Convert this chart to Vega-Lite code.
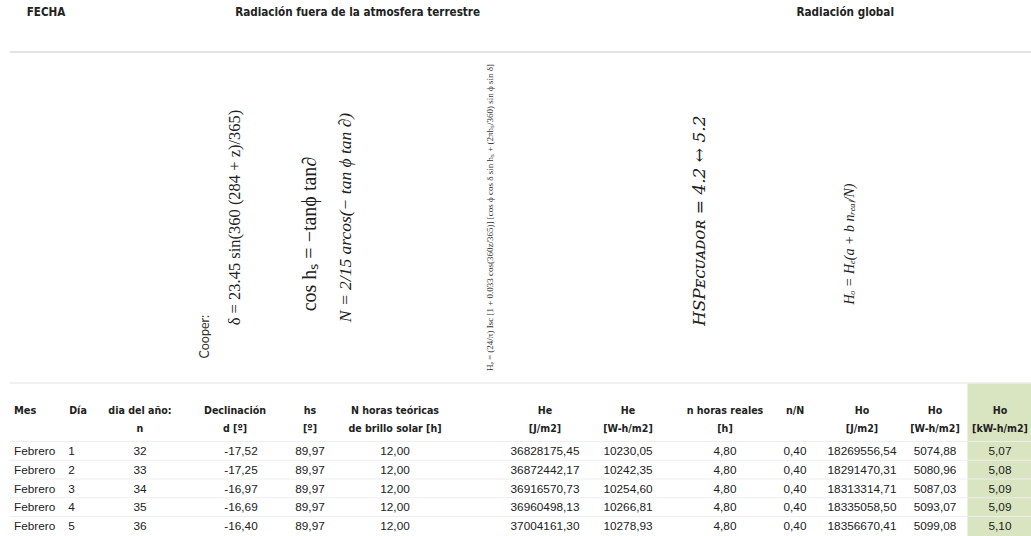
{
  "$schema": "https://vega.github.io/schema/vega-lite/v6.json",
  "width": 1031,
  "height": 536,
  "padding": 0,
  "autosize": {"type": "fit", "contains": "padding"},
  "background": "white",
  "config": {
    "view": {"stroke": null},
    "axis": {"disable": true},
    "locale": {"number": {"decimal": ",", "thousands": ".", "grouping": [3], "currency": ["", "€"], "minus": "-"}},
    "text": {"font": "Liberation Sans", "fontSize": 11.8, "color": "#222222"}
  },
  "datasets": {
    "tabla": [
      {"mes": "Febrero", "dia": 1, "n": 32, "decl": -17.52, "hs": 89.97, "N": 12.00, "HeJ": 36828175.45, "HeW": 10230.05, "nreal": 4.80, "nN": 0.40, "HoJ": 18269556.54, "HoW": 5074.88, "HokW": 5.07},
      {"mes": "Febrero", "dia": 2, "n": 33, "decl": -17.25, "hs": 89.97, "N": 12.00, "HeJ": 36872442.17, "HeW": 10242.35, "nreal": 4.80, "nN": 0.40, "HoJ": 18291470.31, "HoW": 5080.96, "HokW": 5.08},
      {"mes": "Febrero", "dia": 3, "n": 34, "decl": -16.97, "hs": 89.97, "N": 12.00, "HeJ": 36916570.73, "HeW": 10254.60, "nreal": 4.80, "nN": 0.40, "HoJ": 18313314.71, "HoW": 5087.03, "HokW": 5.09},
      {"mes": "Febrero", "dia": 4, "n": 35, "decl": -16.69, "hs": 89.97, "N": 12.00, "HeJ": 36960498.13, "HeW": 10266.81, "nreal": 4.80, "nN": 0.40, "HoJ": 18335058.50, "HoW": 5093.07, "HokW": 5.09},
      {"mes": "Febrero", "dia": 5, "n": 36, "decl": -16.40, "hs": 89.97, "N": 12.00, "HeJ": 37004161.30, "HeW": 10278.93, "nreal": 4.80, "nN": 0.40, "HoJ": 18356670.41, "HoW": 5099.08, "HokW": 5.10}
    ],
    "encabezados": [
      {"col": 1, "t": ["Día"]},
      {"col": 2, "t": ["dia del año:", "n"]},
      {"col": 3, "t": ["Declinación", "d [º]"]},
      {"col": 4, "t": ["hs", "[º]"]},
      {"col": 5, "t": ["N horas teóricas", "de brillo solar [h]"]},
      {"col": 6, "t": ["He", "[J/m2]"]},
      {"col": 7, "t": ["He", "[W-h/m2]"]},
      {"col": 8, "t": ["n horas reales", "[h]"]},
      {"col": 9, "t": ["n/N"]},
      {"col": 10, "t": ["Ho", "[J/m2]"]},
      {"col": 11, "t": ["Ho", "[W-h/m2]"]},
      {"col": 12, "t": ["Ho", "[kW-h/m2]"]}
    ]
  },
  "layer": [
    {
      "data": {"values": [{}]},
      "mark": {"type": "rect", "color": "#d9e4c0"},
      "encoding": {
        "x": {"datum": 11.5, "type": "quantitative", "axis": null,
              "scale": {"domain": [-1, 0, 1, 2, 3, 4, 5, 6, 7, 8, 9, 10, 11, 12, 13], "range": [0, 14, 78, 140, 235, 310, 395, 545, 628, 725, 795, 862, 935, 1000, 1031], "zero": false, "nice": false}},
        "x2": {"datum": 13},
        "y": {"datum": -2, "type": "quantitative", "axis": null,
              "scale": {"domain": [-5, -4, -3, -2, -1, 0, 0.5, 1, 5, 5.5], "range": [0, 13, 52, 383, 402, 420, 441, 451, 526, 536], "zero": false, "nice": false}},
        "y2": {"datum": 5.5}
      }
    },
    {
      "data": {"values": [{}]},
      "mark": {"type": "rule", "color": "#e3e3e3", "strokeWidth": 2},
      "encoding": {"x": {"datum": -0.3, "type": "quantitative"}, "x2": {"datum": 13}, "y": {"datum": -3, "type": "quantitative"}}
    },
    {
      "data": {"values": [{}]},
      "mark": {"type": "rule", "color": "#ededed", "strokeWidth": 1.5},
      "encoding": {"x": {"datum": -0.3, "type": "quantitative"}, "x2": {"datum": 13}, "y": {"datum": -2, "type": "quantitative"}}
    },
    {
      "data": {"name": "tabla"},
      "mark": {"type": "rule", "color": "#eeeeee", "strokeWidth": 1, "yOffset": -9.5},
      "encoding": {"x": {"datum": -0.3, "type": "quantitative"}, "x2": {"datum": 13}, "y": {"field": "dia", "type": "quantitative"}}
    },
    {
      "data": {"values": [{}]},
      "mark": {"type": "text", "text": "FECHA", "font": "DejaVu Sans Condensed, Liberation Sans", "fontWeight": "bold", "fontSize": 11.6},
      "encoding": {"x": {"datum": 0.5, "type": "quantitative"}, "y": {"datum": -4, "type": "quantitative"}}
    },
    {
      "data": {"values": [{}]},
      "mark": {"type": "text", "text": "Radiación fuera de la atmosfera terrestre", "font": "DejaVu Sans Condensed, Liberation Sans", "fontWeight": "bold", "fontSize": 11.6},
      "encoding": {"x": {"datum": 4.56, "type": "quantitative"}, "y": {"datum": -4, "type": "quantitative"}}
    },
    {
      "data": {"values": [{}]},
      "mark": {"type": "text", "text": "Radiación global", "font": "DejaVu Sans Condensed, Liberation Sans", "fontWeight": "bold", "fontSize": 11.6},
      "encoding": {"x": {"datum": 9.75, "type": "quantitative"}, "y": {"datum": -4, "type": "quantitative"}}
    },
    {
      "data": {"values": [{}]},
      "mark": {"type": "text", "text": "Cooper:", "font": "Lato", "fontSize": 12.5, "angle": 270, "color": "#333333"},
      "encoding": {"x": {"datum": 2.68, "type": "quantitative"}, "y": {"datum": -2.14, "type": "quantitative"}}
    },
    {
      "data": {"values": [{}]},
      "mark": {"type": "text", "text": "δ = 23.45 sin(360 (284 + z)/365)", "font": "Liberation Serif", "fontSize": 16.5, "angle": 270, "color": "#222222"},
      "encoding": {"x": {"datum": 3.0, "type": "quantitative"}, "y": {"datum": -2.5, "type": "quantitative"}}
    },
    {
      "data": {"values": [{}]},
      "mark": {"type": "text", "text": "cos hₛ = −tanϕ tan∂", "font": "Liberation Serif", "fontSize": 20, "angle": 270, "color": "#222222"},
      "encoding": {"x": {"datum": 4.0, "type": "quantitative"}, "y": {"datum": -2.45, "type": "quantitative"}}
    },
    {
      "data": {"values": [{}]},
      "mark": {"type": "text", "text": "N = 2/15 arcos(− tan ϕ tan ∂)", "font": "Liberation Serif", "fontSize": 17.5, "fontStyle": "italic", "angle": 270, "color": "#222222"},
      "encoding": {"x": {"datum": 4.42, "type": "quantitative"}, "y": {"datum": -2.5, "type": "quantitative"}}
    },
    {
      "data": {"values": [{}]},
      "mark": {"type": "text", "text": "Hₑ = (24/π) Isc [1 + 0.033 cos(360z/365)] [cos ϕ cos δ sin hₛ + (2πhₛ/360) sin ϕ sin δ]", "font": "Liberation Serif", "fontSize": 9, "angle": 270, "color": "#333333"},
      "encoding": {"x": {"datum": 5.63, "type": "quantitative"}, "y": {"datum": -2.5, "type": "quantitative"}}
    },
    {
      "data": {"values": [{}]},
      "mark": {"type": "text", "text": "HSPᴇᴄᴜᴀᴅᴏʀ = 4.2 ↔ 5.2", "font": "DejaVu Serif", "fontSize": 17, "fontStyle": "italic", "angle": 270, "color": "#222222"},
      "encoding": {"x": {"datum": 7.74, "type": "quantitative"}, "y": {"datum": -2.49, "type": "quantitative"}}
    },
    {
      "data": {"values": [{}]},
      "mark": {"type": "text", "text": "Hₒ = Hₑ(a + b nᵣₑₐₗ/N)", "font": "Liberation Serif", "fontSize": 14, "fontStyle": "italic", "angle": 270, "color": "#222222"},
      "encoding": {"x": {"datum": 9.82, "type": "quantitative"}, "y": {"datum": -2.42, "type": "quantitative"}}
    },
    {
      "data": {"values": [{}]},
      "mark": {"type": "text", "text": "Mes", "align": "left", "font": "DejaVu Sans Condensed, Liberation Sans", "fontWeight": "bold", "fontSize": 11},
      "encoding": {"x": {"datum": 0, "type": "quantitative"}, "y": {"datum": -0.5, "type": "quantitative"}}
    },
    {
      "data": {"name": "encabezados"},
      "mark": {"type": "text", "font": "DejaVu Sans Condensed, Liberation Sans", "fontWeight": "bold", "fontSize": 10.6, "lineHeight": 18},
      "encoding": {"x": {"field": "col", "type": "quantitative"}, "y": {"datum": -0.5, "type": "quantitative"}, "text": {"field": "t"}}
    },
    {
      "data": {"name": "tabla"},
      "mark": {"type": "text", "align": "left"},
      "encoding": {"x": {"datum": 0, "type": "quantitative"}, "y": {"field": "dia", "type": "quantitative"}, "text": {"field": "mes"}}
    },
    {
      "data": {"name": "tabla"},
      "mark": {"type": "text"},
      "encoding": {"x": {"datum": 0.9, "type": "quantitative"}, "y": {"field": "dia", "type": "quantitative"}, "text": {"field": "dia", "format": "d"}}
    },
    {
      "data": {"name": "tabla"},
      "mark": {"type": "text"},
      "encoding": {"x": {"datum": 2, "type": "quantitative"}, "y": {"field": "dia", "type": "quantitative"}, "text": {"field": "n", "format": "d"}}
    },
    {
      "data": {"name": "tabla"},
      "mark": {"type": "text"},
      "encoding": {"x": {"datum": 3.08, "type": "quantitative"}, "y": {"field": "dia", "type": "quantitative"}, "text": {"field": "decl", "format": ".2f"}}
    },
    {
      "data": {"name": "tabla"},
      "mark": {"type": "text"},
      "encoding": {"x": {"datum": 4, "type": "quantitative"}, "y": {"field": "dia", "type": "quantitative"}, "text": {"field": "hs", "format": ".2f"}}
    },
    {
      "data": {"name": "tabla"},
      "mark": {"type": "text"},
      "encoding": {"x": {"datum": 5, "type": "quantitative"}, "y": {"field": "dia", "type": "quantitative"}, "text": {"field": "N", "format": ".2f"}}
    },
    {
      "data": {"name": "tabla"},
      "mark": {"type": "text"},
      "encoding": {"x": {"datum": 6, "type": "quantitative"}, "y": {"field": "dia", "type": "quantitative"}, "text": {"field": "HeJ", "format": ".2f"}}
    },
    {
      "data": {"name": "tabla"},
      "mark": {"type": "text"},
      "encoding": {"x": {"datum": 7, "type": "quantitative"}, "y": {"field": "dia", "type": "quantitative"}, "text": {"field": "HeW", "format": ".2f"}}
    },
    {
      "data": {"name": "tabla"},
      "mark": {"type": "text"},
      "encoding": {"x": {"datum": 8, "type": "quantitative"}, "y": {"field": "dia", "type": "quantitative"}, "text": {"field": "nreal", "format": ".2f"}}
    },
    {
      "data": {"name": "tabla"},
      "mark": {"type": "text"},
      "encoding": {"x": {"datum": 9, "type": "quantitative"}, "y": {"field": "dia", "type": "quantitative"}, "text": {"field": "nN", "format": ".2f"}}
    },
    {
      "data": {"name": "tabla"},
      "mark": {"type": "text"},
      "encoding": {"x": {"datum": 10, "type": "quantitative"}, "y": {"field": "dia", "type": "quantitative"}, "text": {"field": "HoJ", "format": ".2f"}}
    },
    {
      "data": {"name": "tabla"},
      "mark": {"type": "text"},
      "encoding": {"x": {"datum": 11, "type": "quantitative"}, "y": {"field": "dia", "type": "quantitative"}, "text": {"field": "HoW", "format": ".2f"}}
    },
    {
      "data": {"name": "tabla"},
      "mark": {"type": "text"},
      "encoding": {"x": {"datum": 12, "type": "quantitative"}, "y": {"field": "dia", "type": "quantitative"}, "text": {"field": "HokW", "format": ".2f"}}
    }
  ]
}
